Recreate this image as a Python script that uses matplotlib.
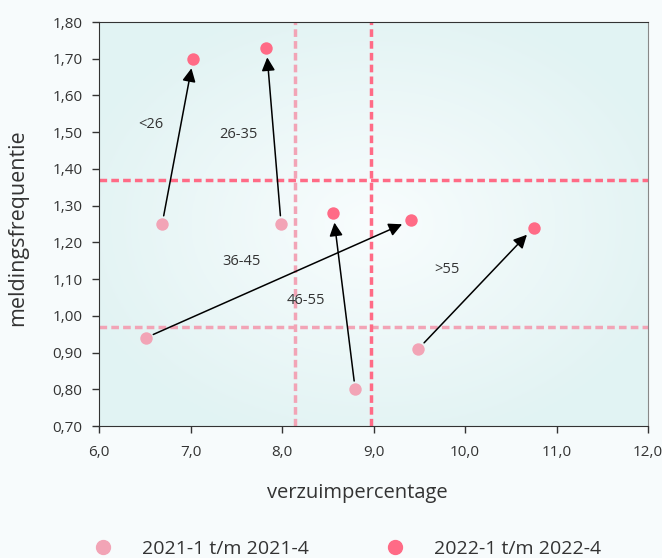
import matplotlib
matplotlib.use("Agg")
import matplotlib.pyplot as plt
from matplotlib.lines import Line2D
import numpy as np

# data
groups = ["<26", "26-35", "36-45", "46-55", ">55"]
x_2021 = [6.69, 7.99, 6.51, 8.80, 9.49]
y_2021 = [1.25, 1.25, 0.94, 0.80, 0.91]
x_2022 = [7.03, 7.83, 9.41, 8.56, 10.75]
y_2022 = [1.70, 1.73, 1.26, 1.28, 1.24]
label_x = [6.57, 7.52, 7.56, 8.26, 9.80]
label_y = [1.52, 1.495, 1.147, 1.043, 1.125]
avg_2021 = (8.14, 0.97)
avg_2022 = (8.97, 1.37)
xticks = [6.0, 7.0, 8.0, 9.0, 10.0, 11.0, 12.0]
yticks = [0.70, 0.80, 0.90, 1.00, 1.10, 1.20, 1.30, 1.40, 1.50, 1.60, 1.70, 1.80]

C21 = "#F2A4B6"
C22 = "#FF6B86"
TXT = "#333333"

plt.rcParams["font.family"] = ["Open Sans", "DejaVu Sans"]

fig = plt.figure(figsize=(6.62, 5.58), dpi=100)
fig.patch.set_facecolor("#F7FBFC")
ax = fig.add_axes([99 / 662, 1 - 426 / 558, 549 / 662, 404 / 558])

# soft radial gradient background
gx, gy = np.meshgrid(np.linspace(-1, 1, 200), np.linspace(-1, 1, 200))
r = np.clip(np.sqrt((gx * 0.9) ** 2 + (gy * 0.9) ** 2), 0, 1)
c_edge = np.array([0.886, 0.953, 0.953])
c_mid = np.array([0.975, 0.992, 0.995])
img = c_mid[None, None, :] * (1 - r[..., None]) + c_edge[None, None, :] * r[..., None]
ax.imshow(img, extent=[6, 12, 0.7, 1.8], aspect="auto", zorder=0)

ax.set_xlim(6, 12)
ax.set_ylim(0.70, 1.80)

ax.axvline(avg_2021[0], color=C21, lw=2.5, ls=(0, (2.2, 1.2)), zorder=1)
ax.axhline(avg_2021[1], color=C21, lw=2.5, ls=(0, (2.2, 1.2)), zorder=1)
ax.axvline(avg_2022[0], color=C22, lw=2.5, ls=(0, (2.2, 1.2)), zorder=1)
ax.axhline(avg_2022[1], color=C22, lw=2.5, ls=(0, (2.2, 1.2)), zorder=1)

for i, g in enumerate(groups):
    ax.annotate("", xy=(x_2022[i], y_2022[i]), xytext=(x_2021[i], y_2021[i]),
                arrowprops=dict(arrowstyle="-|>", color="black", lw=1.1,
                                mutation_scale=20, shrinkA=6, shrinkB=7),
                zorder=3)
    ax.text(label_x[i], label_y[i], g, ha="center", va="center",
            fontsize=10.5, color=TXT, zorder=4)

ax.scatter(x_2021, y_2021, s=80, color=C21, zorder=5, linewidths=0)
ax.scatter(x_2022, y_2022, s=80, color=C22, zorder=5, linewidths=0)

ax.set_xticks(xticks)
ax.set_xticklabels([f"{v:.1f}".replace(".", ",") for v in xticks])
ax.set_yticks(yticks)
ax.set_yticklabels([f"{v:.2f}".replace(".", ",") for v in yticks])
ax.tick_params(labelsize=11, colors=TXT, length=5, width=1, pad=7)
ax.tick_params(axis="x", pad=9)
for s in ["left", "bottom", "top"]:
    ax.spines[s].set_color("#333333")
ax.spines["right"].set_color("#888888")
ax.grid(False)

ax.set_xlabel("verzuimpercentage", fontsize=14.5, color=TXT)
ax.xaxis.set_label_coords((357 - 99) / 549, -(483 - 426) / 404)
ax.set_ylabel("meldingsfrequentie", fontsize=15.5, color=TXT)
ax.yaxis.set_label_coords(-(99 - 28) / 549, 0.49)

handles = [
    Line2D([], [], marker="o", ls="", color=C21, markersize=10, label="2021-1 t/m 2021-4"),
    Line2D([], [], marker="o", ls="", color=C22, markersize=10, label="2022-1 t/m 2022-4"),
]
fig.legend(handles=handles, loc="center left", bbox_to_anchor=(84 / 662, 1 - 549 / 558),
           ncol=2, frameon=False, fontsize=14, columnspacing=3.4,
           handletextpad=1.0, labelcolor=TXT, borderaxespad=0, borderpad=0)

fig.savefig("out.png", dpi=100, facecolor=fig.get_facecolor())
